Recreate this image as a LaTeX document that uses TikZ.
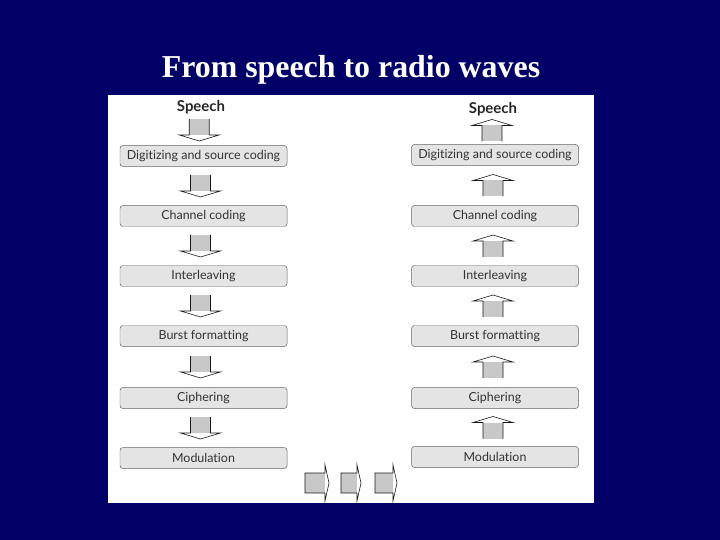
\documentclass[tikz,border=0pt]{standalone}
\usepackage{fontspec}
\setmainfont{Liberation Serif}
\newfontfamily\stagefont[Ligatures={NoCommon}]{Lato}
\usetikzlibrary{calc}
\definecolor{slideblue}{RGB}{0,0,102}
\definecolor{stagegray}{RGB}{228,228,228}
\definecolor{shaftgray}{RGB}{200,200,200}
\tikzset{
  stage/.style={draw=black!60, line width=0.5pt, fill=stagegray, rounded corners=3pt,
    minimum width=167bp, minimum height=21bp, inner sep=0pt,
    font=\stagefont\fontsize{12.5}{14}\selectfont, text=black!80},
  speech/.style={font=\stagefont\bfseries\fontsize{15}{17}\selectfont, text=black!85, inner sep=0pt, anchor=base},
  blockline/.style={draw=black!90, line width=0.6pt, line join=miter}
}
\def\downblock(#1)(#2){
  \coordinate (m) at ($(#1.south)!0.5!(#2.north)+(-3,0)$);
  \fill[shaftgray] ($(m)+(-10,-11)$) rectangle ($(m)+(10,5)$);
  \draw[blockline] ($(m)+(-10,-11)$) -- ($(m)+(-10,5)$) -- ($(m)+(-20,5)$) -- ($(m)+(0,11)$) -- ($(m)+(20,5)$) -- ($(m)+(10,5)$) -- ($(m)+(10,-11)$);
}
\def\upblock(#1)(#2){
  \coordinate (m) at ($(#1.north)!0.5!(#2.south)+(-2,0)$);
  \fill[shaftgray] ($(m)+(-10,11)$) rectangle ($(m)+(10,-5)$);
  \draw[blockline] ($(m)+(-10,11)$) -- ($(m)+(-10,-5)$) -- ($(m)+(-20,-5)$) -- ($(m)+(0,-11)$) -- ($(m)+(20,-5)$) -- ($(m)+(10,-5)$) -- ($(m)+(10,11)$);
}
\def\rightblock(#1:#2:#3){
  \fill[shaftgray] (#1,473) rectangle (#2,493);
  \draw[blockline] (#1,473) -- (#2,473) -- (#2,465) -- (#3,483) -- (#2,501) -- (#2,493) -- (#1,493) -- cycle;
}

\begin{document}
\begin{tikzpicture}[x=1bp, y=-1bp]
	%%%%% BACKGROUND %%%%%
	\useasboundingbox (0,0) rectangle (720,540);
	\fill[slideblue] (0,0) rectangle (720,540);
	\node[anchor=base, text=white, font=\bfseries\fontsize{32}{36}\selectfont] (title) at (351,78) {From speech to radio waves};
	\fill[white] (108,95) rectangle (594,503);
	
	%%%%% SENDER %%%%%
	\node[speech] (speechL) at (201,112) {Speech};
	\node[stage] (digL) at (203.5,156) {Digitizing and source coding};
	\node[stage] (chanL) at (203.5,216) {Channel coding};
	\node[stage] (intL) at (203.5,276) {Interleaving};
	\node[stage] (burstL) at (203.5,336) {Burst formatting};
	\node[stage] (ciphL) at (203.5,398) {Ciphering};
	\node[stage] (modL) at (203.5,458) {Modulation};
	
	\downblock(speechL)(digL)
	\downblock(digL)(chanL)
	\downblock(chanL)(intL)
	\downblock(intL)(burstL)
	\downblock(burstL)(ciphL)
	\downblock(ciphL)(modL)
	
	%%%%% RECEIVER %%%%%
	\node[speech] (speechR) at (493,114) {Speech};
	\node[stage] (digR) at (495,155) {Digitizing and source coding};
	\node[stage] (chanR) at (495,216) {Channel coding};
	\node[stage] (intR) at (495,276) {Interleaving};
	\node[stage] (burstR) at (495,336) {Burst formatting};
	\node[stage] (ciphR) at (495,398) {Ciphering};
	\node[stage] (modR) at (495,457) {Modulation};
	
	\upblock(digR)(speechR)
	\upblock(chanR)(digR)
	\upblock(intR)(chanR)
	\upblock(burstR)(intR)
	\upblock(ciphR)(burstR)
	\upblock(modR)(ciphR)
	
	%%%%% RADIO PATH %%%%%
	\rightblock(305:325:329)
	\rightblock(341:357:361)
	\rightblock(375:393:397)
	
	%%%%% END %%%%%
\end{tikzpicture}
\end{document}
